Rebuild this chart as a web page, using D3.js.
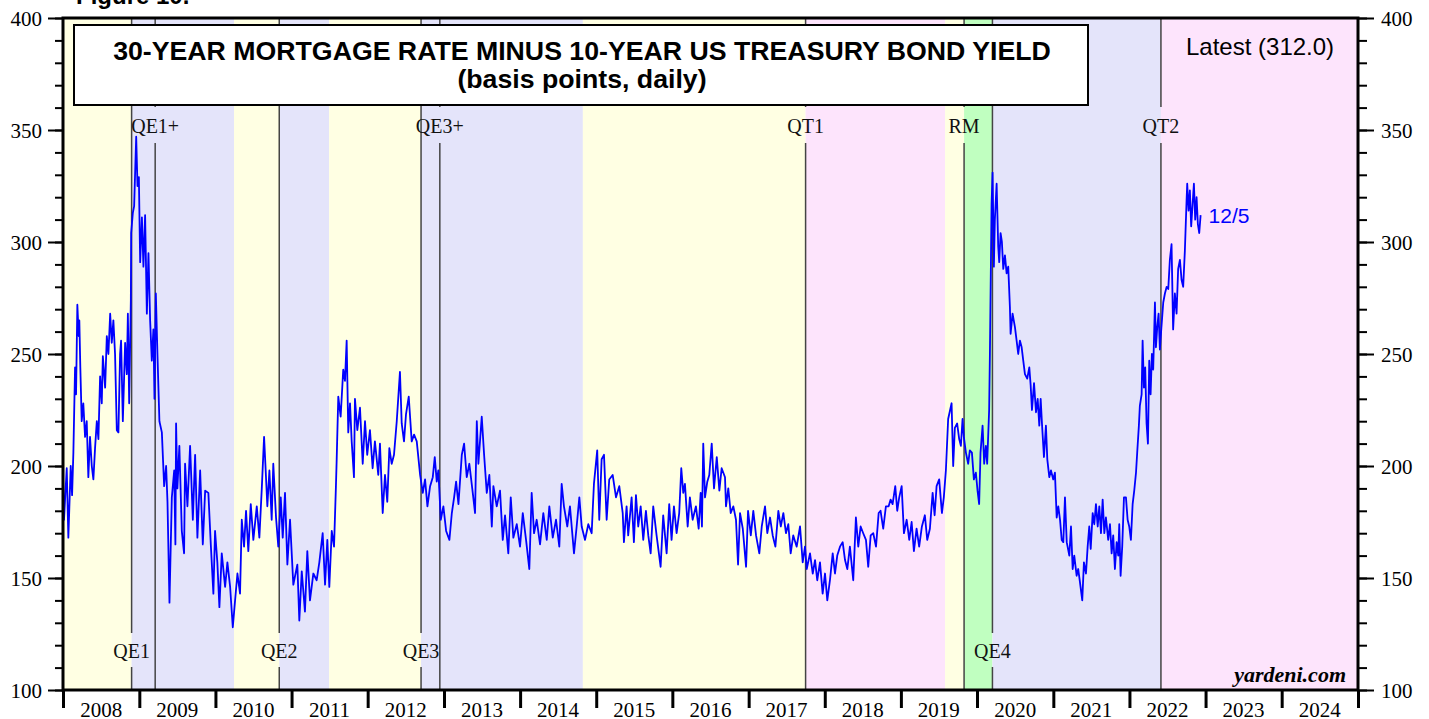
<!DOCTYPE html>
<html>
<head>
<meta charset="utf-8">
<script src="https://cdn.jsdelivr.net/npm/d3@7"></script>
<style>
  html, body { margin: 0; padding: 0; background: #fff; }
  svg { display: block; }
  .sans { font-family: "Liberation Sans", Arial, sans-serif; }
  .serif { font-family: "Liberation Serif", "Times New Roman", serif; }
</style>
</head>
<body>
<svg class="main" width="1429" height="719"></svg>
<script>
// spread values: [decimal year, basis points]
var spread2008_2009 = [
  [2008.000,196],[2008.013,176],[2008.049,199],[2008.070,168],[2008.101,200],[2008.119,187],[2008.136,206],[2008.158,244],[2008.171,232],[2008.188,272],
  [2008.206,258],[2008.214,265],[2008.227,244],[2008.245,220],[2008.266,228],[2008.289,213],[2008.311,220],[2008.332,195],[2008.354,213],[2008.377,200],
  [2008.398,194],[2008.420,208],[2008.443,220],[2008.464,212],[2008.486,240],[2008.508,228],[2008.522,249],[2008.552,235],[2008.574,258],[2008.595,250],
  [2008.618,268],[2008.639,255],[2008.660,265],[2008.682,250],[2008.705,216],[2008.726,215],[2008.748,250],[2008.761,256],[2008.784,220],[2008.814,255],
  [2008.836,241],[2008.850,268],[2008.867,228],[2008.889,274],[2008.893,304],[2008.915,313],[2008.932,316],[2008.959,347],[2008.976,325],[2008.994,329],
  [2009.011,291],[2009.034,311],[2009.054,289],[2009.076,312],[2009.099,268],[2009.120,295],[2009.142,265],[2009.164,247],[2009.185,261],[2009.199,230],
  [2009.217,277],[2009.238,250],[2009.264,220],[2009.296,215],[2009.326,191],[2009.352,200],[2009.370,184],[2009.396,139],[2009.427,186],[2009.458,198],
  [2009.474,165],[2009.483,219],[2009.500,190],[2009.526,209],[2009.558,171],[2009.588,161],[2009.601,201],[2009.632,182],[2009.667,209],[2009.703,176],
  [2009.733,205],[2009.763,168],[2009.799,198],[2009.834,165],[2009.865,189],[2009.907,188],[2009.939,165],[2009.973,143]
];
var spread2010_2011 = [
  [2009.995,171],[2010.025,157],[2010.052,137],[2010.083,161],[2010.127,146],[2010.157,157],[2010.193,146],[2010.228,128],[2010.258,140],[2010.289,152],
  [2010.323,143],[2010.346,176],[2010.376,164],[2010.402,180],[2010.432,162],[2010.464,183],[2010.498,167],[2010.543,182],[2010.577,168],[2010.609,190],
  [2010.639,213],[2010.656,201],[2010.682,182],[2010.709,198],[2010.739,176],[2010.760,201],[2010.796,177],[2010.826,164],[2010.858,186],[2010.884,168],
  [2010.914,188],[2010.945,156],[2010.980,176],[2011.023,147],[2011.076,156],[2011.102,131],[2011.134,153],[2011.176,135],[2011.207,162],[2011.242,140],
  [2011.286,152],[2011.330,149],[2011.365,157],[2011.409,170],[2011.440,147],[2011.470,167],[2011.496,146],[2011.528,171],[2011.558,164],[2011.583,191],
  [2011.593,203],[2011.614,231],[2011.645,222],[2011.679,243],[2011.702,238],[2011.724,256],[2011.745,215],[2011.768,228],[2011.790,211],[2011.820,195],
  [2011.833,230],[2011.864,216],[2011.899,226],[2011.935,201],[2011.965,220]
];
var spread2012_2014 = [
  [2011.994,205],[2012.030,216],[2012.065,199],[2012.095,211],[2012.139,196],[2012.161,210],[2012.197,179],[2012.227,196],[2012.257,184],[2012.284,208],
  [2012.315,201],[2012.345,205],[2012.381,220],[2012.423,242],[2012.446,219],[2012.476,211],[2012.502,223],[2012.538,231],[2012.577,211],[2012.608,214],
  [2012.643,211],[2012.687,196],[2012.722,188],[2012.752,194],[2012.783,182],[2012.818,191],[2012.853,195],[2012.879,204],[2012.905,193],[2012.926,198],
  [2012.958,176],[2012.992,182],[2013.028,171],[2013.071,167],[2013.103,179],[2013.133,186],[2013.159,193],[2013.190,183],[2013.234,205],[2013.264,210],
  [2013.299,195],[2013.333,201],[2013.378,188],[2013.408,179],[2013.431,220],[2013.452,201],[2013.496,222],[2013.527,205],[2013.562,188],[2013.596,196],
  [2013.628,173],[2013.649,191],[2013.693,182],[2013.736,189],[2013.772,167],[2013.802,178],[2013.845,161],[2013.877,186],[2013.911,168],[2013.956,174],
  [2013.999,164],[2014.035,179],[2014.078,167],[2014.121,154],[2014.152,188],[2014.183,170],[2014.218,176],[2014.262,165],[2014.305,179],[2014.350,167],
  [2014.384,182],[2014.429,168],[2014.472,176],[2014.515,164],[2014.546,192],[2014.576,182],[2014.620,173],[2014.655,182],[2014.708,161],[2014.743,173],
  [2014.778,186],[2014.809,173],[2014.853,167],[2014.896,174],[2014.940,170]
];
var spread2015_2017 = [
  [2014.970,192],[2015.013,207],[2015.040,176],[2015.071,203],[2015.102,205],[2015.137,176],[2015.171,194],[2015.216,196],[2015.260,186],[2015.303,191],
  [2015.348,179],[2015.364,166],[2015.399,182],[2015.420,169],[2015.465,186],[2015.495,166],[2015.522,187],[2015.552,173],[2015.584,182],[2015.618,167],
  [2015.653,180],[2015.684,169],[2015.715,161],[2015.749,182],[2015.793,169],[2015.846,155],[2015.880,178],[2015.925,161],[2015.959,183],[2015.990,167],
  [2016.021,182],[2016.056,170],[2016.090,179],[2016.117,199],[2016.143,188],[2016.165,192],[2016.201,173],[2016.230,186],[2016.266,176],[2016.309,182],
  [2016.345,172],[2016.371,188],[2016.388,173],[2016.405,210],[2016.428,186],[2016.458,193],[2016.484,196],[2016.516,210],[2016.546,190],[2016.582,204],
  [2016.616,189],[2016.646,199],[2016.690,195],[2016.703,182],[2016.733,190],[2016.765,179],[2016.799,182],[2016.834,176],[2016.861,156],[2016.887,179],
  [2016.923,172],[2016.966,155],[2016.992,180],[2017.028,169],[2017.061,180],[2017.097,169],[2017.140,161],[2017.172,173],[2017.215,182],[2017.245,170],
  [2017.281,177],[2017.316,169],[2017.351,164],[2017.390,180],[2017.422,173],[2017.456,179],[2017.490,170],[2017.521,174],[2017.552,161],[2017.586,169],
  [2017.631,164],[2017.675,173],[2017.710,157],[2017.740,164],[2017.763,154],[2017.806,161],[2017.842,152],[2017.872,158],[2017.901,149],[2017.937,157],
  [2017.972,143]
];
var spread2018_2019 = [
  [2018.003,152],[2018.033,140],[2018.068,149],[2018.104,161],[2018.134,152],[2018.164,160],[2018.200,164],[2018.235,166],[2018.266,158],[2018.296,154],
  [2018.330,164],[2018.374,149],[2018.409,177],[2018.440,164],[2018.471,173],[2018.505,170],[2018.541,167],[2018.571,155],[2018.603,169],[2018.637,170],
  [2018.673,164],[2018.708,179],[2018.733,180],[2018.768,172],[2018.803,182],[2018.839,182],[2018.865,185],[2018.891,183],[2018.926,191],[2018.952,180],
  [2018.978,186],[2019.010,191],[2019.040,170],[2019.076,176],[2019.110,167],[2019.141,175],[2019.171,162],[2019.206,172],[2019.240,164],[2019.276,173],
  [2019.315,178],[2019.346,167],[2019.381,172],[2019.417,188],[2019.443,178],[2019.469,191],[2019.503,194],[2019.539,179],[2019.564,186],[2019.591,198],
  [2019.621,221],[2019.666,228],[2019.687,200],[2019.709,217],[2019.739,219],[2019.766,212],[2019.788,209],[2019.810,221],[2019.827,213],[2019.854,206],
  [2019.884,201],[2019.906,207],[2019.933,206],[2019.959,194],[2019.985,197]
];
var spread2020_2022 = [
  [2020.007,189],[2020.028,183],[2020.046,206],[2020.073,218],[2020.094,201],[2020.116,209],[2020.133,201],[2020.159,225],[2020.169,250],[2020.191,317],
  [2020.204,331],[2020.221,289],[2020.234,310],[2020.257,326],[2020.278,298],[2020.291,291],[2020.309,304],[2020.326,300],[2020.344,288],[2020.366,294],
  [2020.388,286],[2020.409,289],[2020.431,271],[2020.440,259],[2020.466,268],[2020.497,262],[2020.519,256],[2020.540,250],[2020.562,256],[2020.585,253],
  [2020.606,247],[2020.628,241],[2020.658,239],[2020.685,244],[2020.703,236],[2020.720,225],[2020.747,237],[2020.773,224],[2020.795,230],[2020.816,218],
  [2020.834,230],[2020.851,219],[2020.877,204],[2020.903,218],[2020.921,203],[2020.947,195],[2020.969,198],[2020.999,194],[2021.021,197],[2021.044,177],
  [2021.065,182],[2021.088,176],[2021.110,167],[2021.131,166],[2021.153,186],[2021.176,166],[2021.210,160],[2021.232,173],[2021.254,154],[2021.275,160],
  [2021.306,151],[2021.327,154],[2021.350,148],[2021.380,140],[2021.402,157],[2021.429,152],[2021.451,164],[2021.472,173],[2021.491,163],[2021.517,179],
  [2021.538,174],[2021.560,183],[2021.583,173],[2021.604,182],[2021.626,170],[2021.648,185],[2021.670,170],[2021.691,177],[2021.721,167],[2021.744,174],
  [2021.766,161],[2021.787,169],[2021.809,154],[2021.832,166],[2021.853,160],[2021.866,174],[2021.884,151],[2021.905,164],[2021.928,186],[2021.954,186],
  [2021.976,176],[2021.997,173],[2022.019,167],[2022.042,183],[2022.063,189],[2022.086,197],[2022.102,206],[2022.124,218],[2022.137,227],[2022.160,232],
  [2022.173,256],[2022.190,235],[2022.207,244],[2022.225,219],[2022.243,210],[2022.260,247],[2022.278,232],[2022.295,250],[2022.312,243],[2022.335,273],
  [2022.348,253],[2022.365,262],[2022.383,268],[2022.400,252],[2022.418,261],[2022.444,273],[2022.466,277],[2022.489,280],[2022.510,279],[2022.531,292],
  [2022.553,299],[2022.574,261],[2022.597,277],[2022.619,268],[2022.640,288],[2022.663,292],[2022.685,283],[2022.706,280],[2022.728,296],[2022.751,319],
  [2022.759,326],[2022.777,314],[2022.794,323],[2022.811,307],[2022.830,317],[2022.847,326],[2022.864,310],[2022.882,320],[2022.899,308],[2022.917,304],
  [2022.935,312]
];

// Fed policy events (vertical lines + labels)
var eventNames = ['QE1', 'QE1+', 'QE2', 'QE3', 'QE3+', 'QT1', 'RM', 'QE4', 'QT2'],
    eventDates = ['2008-11-25', '2009-03-18', '2010-11-03', '2012-09-13', '2012-12-12', '2017-10-01', '2019-10-31', '2020-03-15', '2022-06-01'],
    eventSides = ['low', 'high', 'low', 'low', 'high', 'high', 'high', 'low', 'high'];

// shaded periods
var bandStarts = ['2008-01-01', '2008-11-25', '2010-03-31', '2010-11-03', '2011-06-30', '2012-09-13', '2014-10-29', '2017-10-01', '2019-08-01', '2019-10-31', '2020-03-15', '2022-06-01'],
    bandEnds   = ['2008-11-25', '2010-03-31', '2010-11-03', '2011-06-30', '2012-09-13', '2014-10-29', '2017-10-01', '2019-08-01', '2019-10-31', '2020-03-15', '2022-06-01', '2025-01-01'],
    bandKinds  = ['none', 'qe', 'none', 'qe', 'none', 'qe', 'none', 'qt', 'none', 'rm', 'qe', 'qt'];

var yMajorTicks = [100, 150, 200, 250, 300, 350, 400],
    yMinorTicks = d3.range(100, 401, 10),
    yearLabels = d3.range(2008, 2025);

var latestValue = '312.0',
    latestDate = '12/5';

// plot box (note: "top" is reserved on window, so prefix everything)
var plotLeft = 63,
    plotRight = 1358,
    plotTop = 18,
    plotBottom = 690,
    lineColor = '#0000ff',
    eventStroke = '#444',
    bandFill = { none: '#ffffe3', qe: '#e4e4fa', qt: '#fde4fc', rm: '#c0ffc0' };

var parseDay = d3.timeParse('%Y-%m-%d');

function fromDecimal(t) {
    var yr = Math.floor(t),
        s = new Date(yr, 0, 1),
        e = new Date(yr + 1, 0, 1);
    return new Date(+s + (t - yr) * (e - s));
}

var series = [].concat(spread2008_2009, spread2010_2011, spread2012_2014,
    spread2015_2017, spread2018_2019, spread2020_2022)
    .map(function(d) { return { date: fromDecimal(d[0]), value: d[1] }; });

var x = d3.scaleTime()
    .domain([new Date(2008, 0, 1), new Date(2025, 0, 1)])
    .range([plotLeft, plotRight]);

var y = d3.scaleLinear()
    .domain([100, 400])
    .range([plotBottom, plotTop]);

var svg = d3.select('.main');

svg.append('defs').append('clipPath')
    .attr('id', 'plot-clip')
    .append('rect')
    .attr('x', plotLeft).attr('y', plotTop)
    .attr('width', plotRight - plotLeft).attr('height', plotBottom - plotTop);

// "Figure 10." header, mostly cut off at the top edge
svg.append('text')
    .attr('class', 'sans')
    .attr('x', 76).attr('y', 4)
    .style('font-size', '24px').style('font-weight', 'bold')
    .text('Figure 10.');

// background bands
svg.append('g')
    .selectAll('rect')
    .data(bandKinds)
    .enter().append('rect')
    .attr('x', function(d, i) { return x(parseDay(bandStarts[i])); })
    .attr('width', function(d, i) { return x(parseDay(bandEnds[i])) - x(parseDay(bandStarts[i])); })
    .attr('y', plotTop)
    .attr('height', plotBottom - plotTop)
    .attr('fill', function(d) { return bandFill[d]; });

// event lines, broken where their label sits
var events = eventNames.map(function(n, i) {
    return { name: n, date: parseDay(eventDates[i]), side: eventSides[i] };
});

var evG = svg.append('g');
events.forEach(function(ev) {
    var ex = x(ev.date),
        gap = ev.side == 'high' ? [107, 143] : [633, 667];
    [[plotTop, gap[0]], [gap[1], plotBottom]].forEach(function(seg) {
        evG.append('line')
            .attr('x1', ex).attr('x2', ex)
            .attr('y1', seg[0]).attr('y2', seg[1])
            .attr('stroke', eventStroke)
            .attr('stroke-width', 1.5);
    });
});

// the spread
svg.append('path')
    .datum(series)
    .attr('clip-path', 'url(#plot-clip)')
    .attr('fill', 'none')
    .attr('stroke', lineColor)
    .attr('stroke-width', 1.8)
    .attr('stroke-linejoin', 'round')
    .attr('d', d3.line()
        .x(function(d) { return x(d.date); })
        .y(function(d) { return y(d.value); }));

// event labels
svg.append('g')
    .selectAll('text')
    .data(events)
    .enter().append('text')
    .attr('class', 'serif')
    .attr('x', function(d) { return x(d.date); })
    .attr('y', function(d) { return d.side == 'high' ? 133 : 658; })
    .attr('text-anchor', 'middle')
    .style('font-size', '20px')
    .attr('fill', '#111')
    .text(function(d) { return d.name; });

// title box
svg.append('rect')
    .attr('x', 74).attr('y', 25)
    .attr('width', 1014).attr('height', 80)
    .attr('fill', '#fff')
    .attr('stroke', '#000')
    .attr('stroke-width', 2);

svg.append('text')
    .attr('class', 'sans')
    .attr('x', 582).attr('y', 60)
    .attr('text-anchor', 'middle')
    .style('font-size', '26.7px').style('font-weight', 'bold')
    .text('30-YEAR MORTGAGE RATE MINUS 10-YEAR US TREASURY BOND YIELD');

svg.append('text')
    .attr('class', 'sans')
    .attr('x', 582).attr('y', 88)
    .attr('text-anchor', 'middle')
    .style('font-size', '26.7px').style('font-weight', 'bold')
    .text('(basis points, daily)');

svg.append('text')
    .attr('class', 'sans')
    .attr('x', 1186).attr('y', 55)
    .style('font-size', '24px')
    .text('Latest (' + latestValue + ')');

var last = series[series.length - 1];
svg.append('text')
    .attr('class', 'sans')
    .attr('x', x(last.date) + 8)
    .attr('y', y(last.value) + 8)
    .attr('fill', lineColor)
    .style('font-size', '21px')
    .text(latestDate);

svg.append('text')
    .attr('class', 'serif')
    .attr('x', 1346).attr('y', 682)
    .attr('text-anchor', 'end')
    .style('font-size', '22px').style('font-weight', 'bold').style('font-style', 'italic')
    .text('yardeni.com');

// axes
function styleAxis(g, width) {
    g.select('.domain').remove();
    g.selectAll('.tick line').attr('stroke', '#000').attr('stroke-width', width);
    g.selectAll('.tick text')
        .attr('class', 'serif')
        .attr('fill', '#000')
        .style('font-size', '21px');
}

svg.append('g')
    .attr('transform', 'translate(' + plotLeft + ',0)')
    .call(d3.axisLeft(y).tickValues(yMinorTicks).tickSize(8).tickFormat(''))
    .call(styleAxis, 2);

svg.append('g')
    .attr('transform', 'translate(' + plotLeft + ',0)')
    .call(d3.axisLeft(y).tickValues(yMajorTicks).tickSize(15).tickPadding(6))
    .call(styleAxis, 2)
    .selectAll('.tick text').attr('dy', '0.34em');

svg.append('g')
    .attr('transform', 'translate(' + plotRight + ',0)')
    .call(d3.axisRight(y).tickValues(yMinorTicks).tickSize(9).tickFormat(''))
    .call(styleAxis, 2);

svg.append('g')
    .attr('transform', 'translate(' + plotRight + ',0)')
    .call(d3.axisRight(y).tickValues(yMajorTicks).tickSize(16).tickPadding(7))
    .call(styleAxis, 2)
    .selectAll('.tick text').attr('dy', '0.34em');

svg.append('g')
    .attr('transform', 'translate(0,' + plotBottom + ')')
    .call(d3.axisBottom(x)
        .tickValues(d3.range(2008, 2026).map(function(yr) { return new Date(yr, 0, 1); }))
        .tickSize(18)
        .tickFormat(''))
    .call(styleAxis, 3);

svg.append('g')
    .selectAll('text')
    .data(yearLabels)
    .enter().append('text')
    .attr('class', 'serif')
    .attr('x', function(d) { return x(new Date(d, 6, 2)); })
    .attr('y', 717)
    .attr('text-anchor', 'middle')
    .style('font-size', '21px')
    .text(function(d) { return d; });

// plot frame
svg.append('rect')
    .attr('x', plotLeft).attr('y', plotTop)
    .attr('width', plotRight - plotLeft).attr('height', plotBottom - plotTop)
    .attr('fill', 'none')
    .attr('stroke', '#000')
    .attr('stroke-width', 3);
</script>
</body>
</html>
